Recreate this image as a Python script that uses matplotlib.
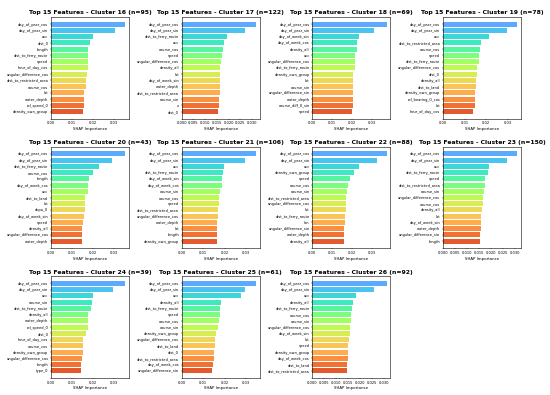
import numpy as np
import matplotlib
matplotlib.use('Agg')
import matplotlib.pyplot as plt

clusters = [16, 17, 18, 19, 20, 21, 22, 23, 24, 25, 26]
sizes = [95, 122, 69, 78, 43, 106, 88, 150, 39, 61, 92]

feat_16 = ['day_of_year_cos', 'day_of_year_sin', 'acc', 'dist_0', 'length', 'dist_to_ferry_route', 'speed',
           'hour_of_day_cos', 'angular_difference_cos', 'dist_to_restricted_area', 'course_cos', 'lat',
           'water_depth', 'rel_speed_0', 'density_own_group']
vals_16 = [0.0354, 0.0306, 0.0198, 0.0183, 0.0178, 0.0176, 0.0175, 0.0175, 0.0171, 0.0167, 0.0167, 0.0157,
           0.0156, 0.0156, 0.0154]

feat_17 = ['day_of_year_cos', 'day_of_year_sin', 'dist_to_ferry_route', 'acc', 'course_cos', 'speed',
           'angular_difference_cos', 'density_all', 'lat', 'day_of_week_sin', 'water_depth',
           'dist_to_restricted_area', 'course_sin', 'x', 'dist_0']
vals_17 = [0.0316, 0.0271, 0.0194, 0.0180, 0.0176, 0.0171, 0.0169, 0.0164, 0.0163, 0.0163, 0.0161, 0.0161,
           0.0160, 0.0157, 0.0156]

feat_18 = ['day_of_year_cos', 'day_of_year_sin', 'day_of_week_sin', 'day_of_week_cos', 'density_all', 'acc',
           'angular_difference_cos', 'dist_to_ferry_route', 'density_own_group', 'lat', 'course_sin',
           'angular_difference_sin', 'water_depth', 'course_diff_0_sin', 'speed']
vals_18 = [0.0373, 0.0308, 0.0237, 0.0222, 0.0222, 0.0215, 0.0213, 0.0212, 0.0205, 0.0205, 0.0203, 0.0203,
           0.0202, 0.0202, 0.0198]

feat_19 = ['day_of_year_cos', 'day_of_year_sin', 'acc', 'dist_to_restricted_area', 'course_cos', 'speed',
           'dist_to_ferry_route', 'angular_difference_cos', 'dist_0', 'density_all', 'dist_to_land',
           'density_own_group', 'rel_bearing_0_cos', 'lat', 'hour_of_day_cos']
vals_19 = [0.0343, 0.0298, 0.0211, 0.0174, 0.0172, 0.0169, 0.0165, 0.0157, 0.0157, 0.0155, 0.0151, 0.0148,
           0.0148, 0.0146, 0.0138]

feat_20 = ['day_of_year_cos', 'day_of_year_sin', 'dist_to_ferry_route', 'course_cos', 'length',
           'day_of_week_cos', 'acc', 'dist_to_land', 'lat', 'dcpa_0', 'day_of_week_sin', 'speed', 'density_all',
           'angular_difference_cos', 'water_depth']
vals_20 = [0.0354, 0.0292, 0.0227, 0.0200, 0.0179, 0.0176, 0.0175, 0.0163, 0.0162, 0.0162, 0.0157, 0.0151,
           0.0149, 0.0148, 0.0146]

feat_21 = ['day_of_year_cos', 'day_of_year_sin', 'acc', 'dist_to_ferry_route', 'day_of_week_sin',
           'day_of_week_cos', 'course_sin', 'course_cos', 'speed', 'dist_to_restricted_area',
           'angular_difference_cos', 'water_depth', 'lat', 'length', 'density_own_group']
vals_21 = [0.0347, 0.0296, 0.0198, 0.0191, 0.0189, 0.0186, 0.0180, 0.0175, 0.0172, 0.0171, 0.0171, 0.0166,
           0.0166, 0.0166, 0.0164]

feat_22 = ['day_of_year_cos', 'day_of_year_sin', 'acc', 'density_own_group', 'speed', 'course_cos', 'course_sin',
           'dist_to_restricted_area', 'angular_difference_cos', 'lat', 'dist_to_ferry_route', 'lon',
           'angular_difference_sin', 'water_depth', 'density_all']
vals_22 = [0.0373, 0.0325, 0.0235, 0.0210, 0.0187, 0.0178, 0.0172, 0.0168, 0.0167, 0.0167, 0.0165, 0.0163,
           0.0158, 0.0157, 0.0157]

feat_23 = ['day_of_year_cos', 'day_of_year_sin', 'acc', 'dist_to_ferry_route', 'speed', 'dist_to_restricted_area',
           'course_sin', 'angular_difference_cos', 'course_cos', 'density_all', 'lat', 'day_of_week_sin',
           'water_depth', 'angular_difference_sin', 'length']
vals_23 = [0.0310, 0.0267, 0.0194, 0.0188, 0.0175, 0.0174, 0.0172, 0.0169, 0.0168, 0.0165, 0.0161, 0.0160,
           0.0158, 0.0156, 0.0156]

feat_24 = ['day_of_year_cos', 'day_of_year_sin', 'acc', 'course_sin', 'dist_to_ferry_route', 'density_all',
           'water_depth', 'rel_speed_0', 'dist_0', 'hour_of_day_cos', 'course_cos', 'density_own_group',
           'angular_difference_cos', 'length', 'type_0']
vals_24 = [0.0356, 0.0298, 0.0203, 0.0198, 0.0189, 0.0178, 0.0176, 0.0175, 0.0167, 0.0154, 0.0152, 0.0152,
           0.0149, 0.0144, 0.0141]

feat_25 = ['day_of_year_cos', 'day_of_year_sin', 'acc', 'density_all', 'dist_to_ferry_route', 'speed',
           'course_cos', 'course_sin', 'density_own_group', 'angular_difference_cos', 'dist_to_land', 'dist_0',
           'dist_to_restricted_area', 'day_of_week_cos', 'angular_difference_sin']
vals_25 = [0.0347, 0.0296, 0.0276, 0.0183, 0.0181, 0.0178, 0.0175, 0.0169, 0.0160, 0.0157, 0.0157, 0.0152,
           0.0152, 0.0144, 0.0143]

feat_26 = ['day_of_year_cos', 'day_of_year_sin', 'acc', 'density_all', 'dist_to_ferry_route', 'course_cos',
           'course_sin', 'angular_difference_cos', 'day_of_week_sin', 'lat', 'speed', 'density_own_group',
           'day_of_week_cos', 'dist_to_land', 'dist_to_restricted_area']
vals_26 = [0.0311, 0.0258, 0.0181, 0.0171, 0.0165, 0.0163, 0.0160, 0.0157, 0.0157, 0.0154, 0.0151, 0.0149,
           0.0149, 0.0147, 0.0147]

features = [feat_16, feat_17, feat_18, feat_19, feat_20, feat_21, feat_22, feat_23, feat_24, feat_25, feat_26]
values = [vals_16, vals_17, vals_18, vals_19, vals_20, vals_21, vals_22, vals_23, vals_24, vals_25, vals_26]

fig, axes = plt.subplots(3, 4, figsize=(5.5, 3.95), dpi=100)
fig.subplots_adjust(left=0.093, right=0.947, top=0.957, bottom=0.043, wspace=0.676, hspace=0.275)
axes = axes.flatten()

colors = plt.cm.turbo(np.linspace(0.2, 0.85, 15))

for i, ax in enumerate(axes):
    if i >= len(clusters):
        ax.axis('off')
        continue
    y = np.arange(len(features[i]))
    ax.barh(y, values[i], color=colors, alpha=0.85, height=0.8)
    ax.set_yticks(y)
    ax.set_yticklabels(features[i], fontsize=2.6)
    ax.invert_yaxis()
    ax.set_title(f'Top 15 Features - Cluster {clusters[i]} (n={sizes[i]})', fontsize=4.4,
                 fontweight='bold', pad=2)
    ax.set_xlabel('SHAP Importance', fontsize=2.8, labelpad=1)
    ax.tick_params(axis='x', labelsize=2.6, length=1, width=0.3, pad=1)
    ax.tick_params(axis='y', length=1, width=0.3, pad=1)
    for s in ax.spines.values():
        s.set_linewidth(0.4)

plt.savefig('out.png', dpi=100)
plt.close()
